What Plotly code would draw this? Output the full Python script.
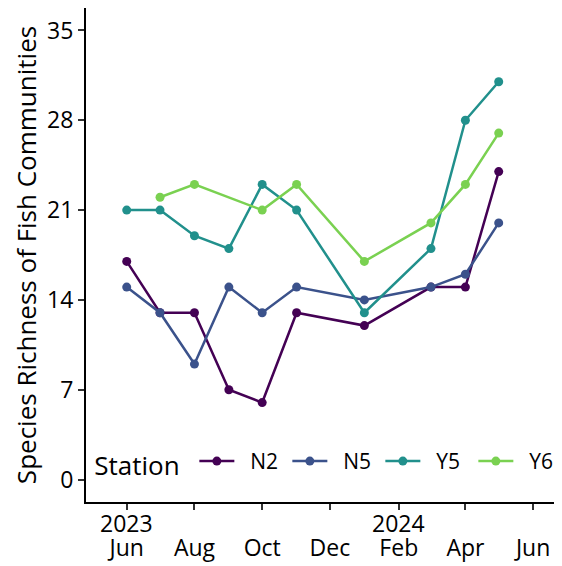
import plotly.graph_objects as go

# ---- data ----
dates_all = ["2023-06-01", "2023-07-01", "2023-08-01", "2023-09-01", "2023-10-01",
             "2023-11-01", "2024-01-01", "2024-03-01", "2024-04-01", "2024-05-01"]
n2 = [17, 13, 13, 7, 6, 13, 12, 15, 15, 24]
n5 = [15, 13, 9, 15, 13, 15, 14, 15, 16, 20]
y5 = [21, 21, 19, 18, 23, 21, 13, 18, 28, 31]
y6_dates = ["2023-07-01", "2023-08-01", "2023-10-01", "2023-11-01",
            "2024-01-01", "2024-03-01", "2024-04-01", "2024-05-01"]
y6 = [22, 23, 21, 23, 17, 20, 23, 27]

stations = ["N2", "N5", "Y5", "Y6"]
colors = ["#440154", "#3B528B", "#21908C", "#7AD151"]

month_ticks = ["2023-06-01", "2023-08-01", "2023-10-01", "2023-12-01",
               "2024-02-01", "2024-04-01", "2024-06-01"]
month_labels = ["Jun", "Aug", "Oct", "Dec", "Feb", "Apr", "Jun"]
year_ticks = ["2023-06-01", "2024-02-01"]
year_labels = ["2023", "2024"]
y_ticks = [0, 7, 14, 21, 28, 35]

FONT = "Open Sans"

fig = go.Figure()
series = [(dates_all, n2), (dates_all, n5), (dates_all, y5), (y6_dates, y6)]
for name, col, (xs, ys) in zip(stations, colors, series):
    fig.add_trace(go.Scatter(
        x=xs, y=ys, name="\u00a0\u00a0" + name, mode="lines+markers",
        line=dict(color=col, width=2.5),
        marker=dict(color=col, size=9),
    ))

for d, t in zip(year_ticks, year_labels):
    fig.add_annotation(x=d, y=-0.043, xref="x", yref="paper", text=t,
                       showarrow=False, yanchor="middle", xanchor="center",
                       font=dict(family=FONT, size=23, color="black"))

# the page body adds an 8px margin, so the figure is shifted by 8px
fig.update_layout(
    width=554, height=558,
    margin=dict(l=78, r=0, t=0, b=64, pad=0, autoexpand=False),
    paper_bgcolor="white", plot_bgcolor="white",
    font=dict(family=FONT, color="black"),
    showlegend=True,
    legend=dict(
        orientation="h", x=0.013, xanchor="left", y=0.079, yanchor="middle",
        bgcolor="rgba(0,0,0,0)",
        title=dict(text="Station\u00a0", side="left", font=dict(size=26, family=FONT)),
        font=dict(size=21, family=FONT),
        entrywidth=43, itemwidth=35,
    ),
    xaxis=dict(
        type="date", range=["2023-04-25 08:00", "2024-06-27"],
        tickvals=month_ticks, ticktext=month_labels, automargin=False,
        showgrid=False, zeroline=False,
        showline=True, linecolor="black", linewidth=2,
        ticks="outside", ticklen=6, tickwidth=1.5, tickcolor="#333333",
        tickfont=dict(size=23, family=FONT, color="black"),
        ticklabelstandoff=18,
    ),
    yaxis=dict(
        range=[-1.75, 36.75], tickvals=y_ticks, automargin=False,
        showgrid=False, zeroline=False,
        showline=True, linecolor="black", linewidth=2,
        ticks="outside", ticklen=6, tickwidth=1.5, tickcolor="#333333",
        tickfont=dict(size=23, family=FONT, color="black"),
        title=dict(text="Species Richness of Fish Communities",
                   font=dict(size=26, family=FONT, color="black"), standoff=8),
    ),
)

fig.write_html("out.html")
